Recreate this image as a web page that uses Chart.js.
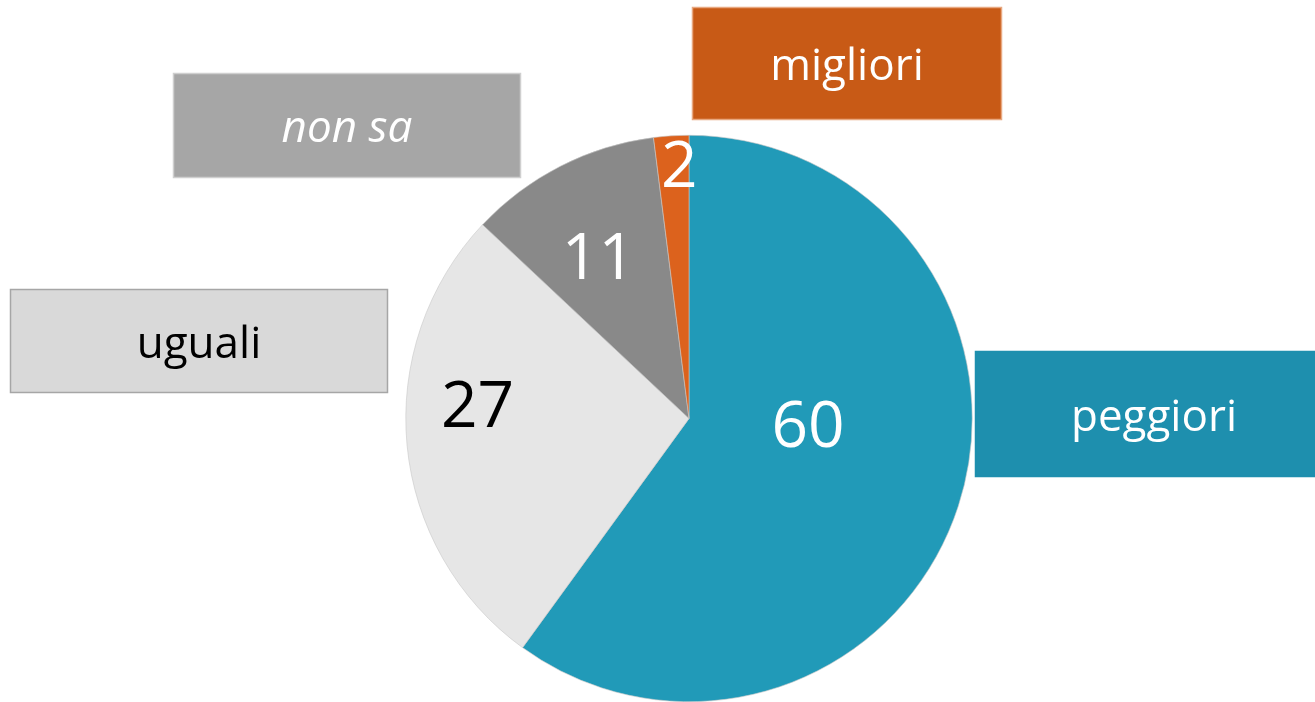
<!DOCTYPE html>
<html>
<head>
<meta charset="utf-8">
<script src="https://cdn.jsdelivr.net/npm/chart.js@4"></script>
<style>
  html, body { margin: 0; padding: 0; background: #fff; }
  #wrap { width: 1315px; height: 702px; }
</style>
</head>
<body>
<div id="wrap"><canvas id="mycanvas" width="1315" height="702"></canvas></div>
<script>
// values
var categorie = ['peggiori', 'uguali', 'non sa', 'migliori'];
var valori = [60, 27, 11, 2];
var coloriFette = ['#219ab8', '#e6e6e6', '#898989', '#dc621d'];
var coloriNumeri = ['#ffffff', '#000000', '#ffffff', '#ffffff'];

// where the number sits inside each slice (fraction of radius) plus a small nudge
var posNumeri = [0.42, 0.75, 0.65, 0.89];
var spostaNumeri = [[6, -26], [0, -30], [-7, 6], [6, 2]];

// the category boxes placed around the pie (peggiori runs off the right edge)
var boxes = [
  { x: 975, y: 351, w: 358, h: 126, fill: '#1e8fae', border: '#1e8fae', color: '#ffffff', italic: false },
  { x: 10, y: 289, w: 378, h: 104, fill: '#d9d9d9', border: '#a6a6a6', color: '#000000', italic: false },
  { x: 173, y: 73, w: 348, h: 105, fill: '#a6a6a6', border: '#cfcfcf', color: '#ffffff', italic: true },
  { x: 692, y: 7, w: 310, h: 113, fill: '#c85a16', border: '#e8a880', color: '#ffffff', italic: false }
];

var etichette = {
  id: 'etichette',
  afterDatasetsDraw: function(chart) {
    var ctx = chart.ctx;
    var meta = chart.getDatasetMeta(0);
    ctx.save();
    ctx.textAlign = 'center';
    ctx.textBaseline = 'middle';
    meta.data.forEach(function(arc, i) {
      var p = arc.getProps(['x', 'y', 'startAngle', 'endAngle', 'outerRadius']);
      var mid = (p.startAngle + p.endAngle) / 2;
      var r = p.outerRadius * posNumeri[i];
      var x = p.x + Math.cos(mid) * r + spostaNumeri[i][0];
      var y = p.y + Math.sin(mid) * r + spostaNumeri[i][1];
      ctx.fillStyle = coloriNumeri[i];
      ctx.font = '64px "Open Sans"';
      ctx.fillText(String(valori[i]), x, y);
    });
    boxes.forEach(function(b, i) {
      ctx.fillStyle = b.fill;
      ctx.fillRect(b.x, b.y, b.w, b.h);
      ctx.strokeStyle = b.border;
      ctx.lineWidth = 1.5;
      ctx.strokeRect(b.x + 0.5, b.y + 0.5, b.w - 1, b.h - 1);
      ctx.fillStyle = b.color;
      ctx.font = (b.italic ? 'italic ' : '') + '44px "Open Sans"';
      ctx.fillText(categorie[i], b.x + b.w / 2, b.y + b.h / 2 + 4);
    });
    ctx.restore();
  }
};

var ctx = document.getElementById('mycanvas');
var torta = new Chart(ctx, {
  type: 'pie',
  data: {
    labels: categorie,
    datasets: [{
      data: valori,
      backgroundColor: coloriFette,
      borderColor: '#c8c8c8',
      borderWidth: 0.6
    }]
  },
  options: {
    responsive: false,
    animation: false,
    layout: { padding: { left: 405, right: 342, top: 135, bottom: 0 } },
    plugins: {
      legend: { display: false },
      tooltip: { enabled: false }
    }
  },
  plugins: [etichette]
});
</script>
</body>
</html>
